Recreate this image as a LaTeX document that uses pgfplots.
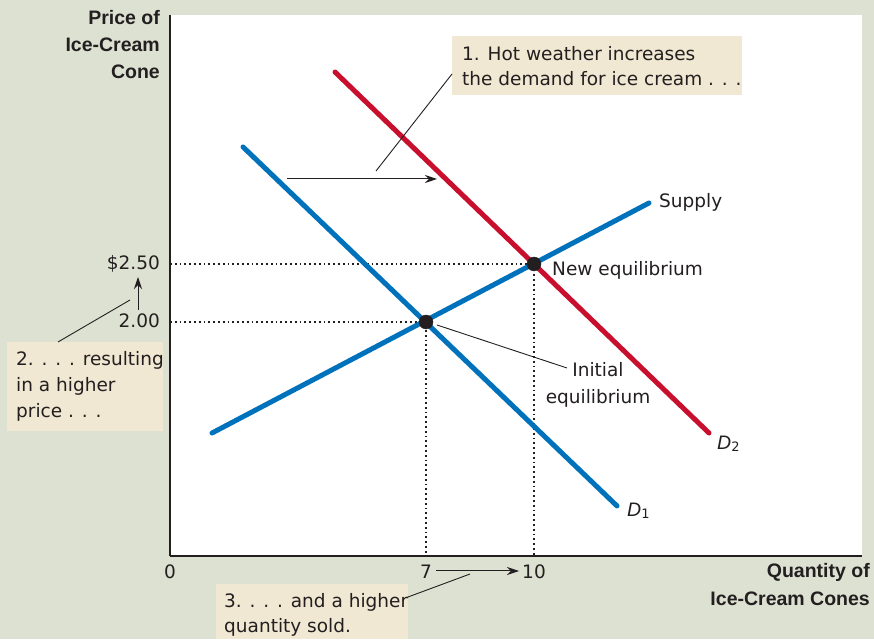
\documentclass[border=0pt]{standalone}
\usepackage{pgfplots}
\pgfplotsset{compat=1.18}
\usetikzlibrary{arrows.meta}
\usepackage{fontspec}
\setmainfont{DejaVu Sans}
\newfontfamily\bfont{Liberation Sans}
\definecolor{bg}{HTML}{DDE1D1}
\definecolor{boxc}{HTML}{F0E8D2}
\definecolor{sblue}{HTML}{0072BC}
\definecolor{dred}{HTML}{C8102E}
\definecolor{ink}{HTML}{231F20}
\newcommand{\lbl}{\fontsize{18.5}{22}\selectfont}
\newcommand{\blbl}{\bfont\bfseries\fontsize{19.5}{22}\selectfont}
\newcommand{\dlbl}[1]{{\bfont\itshape\fontsize{19.5}{22}\selectfont D}\raisebox{-0.35ex}{\fontsize{13}{13}\selectfont #1}}
\begin{document}
\begin{tikzpicture}
\fill[bg] (0,0) rectangle (874pt,639pt);
\useasboundingbox (0,0) rectangle (874pt,639pt);
\begin{axis}[at={(170pt,83pt)}, anchor=south west, scale only axis,
  width=692pt, height=541pt,
  xmin=-0.1111, xmax=19.1111, ymin=-0.0172, ymax=4.6466,
  axis x line=bottom, axis y line=left,
  axis line style={-, draw=ink, line width=1.6pt},
  axis background/.style={fill=white},
  xtick={-0.1111,7,10}, xticklabels={0,7,10},
  ytick={2,2.5}, yticklabels={2.00,\$2.50},
  major tick length=0pt, tick style={draw=none},
  xticklabel style={font=\lbl, text=ink, inner sep=0pt, anchor=base, yshift=-23pt},
  yticklabel style={font=\lbl, text=ink, inner sep=0pt, anchor=base east, xshift=-10pt, yshift=-6pt},
  clip=false]
% dotted guides
\addplot[ink, line width=1.8pt, dash pattern=on 1.8pt off 3pt] coordinates {(-0.1111,2.5) (10,2.5) (10,-0.0172)};
\addplot[ink, line width=1.8pt, dash pattern=on 1.8pt off 3pt] coordinates {(-0.1111,2) (7,2) (7,-0.0172)};
% curves
\addplot[sblue, line width=5pt, line cap=round] coordinates {(1.917,3.509) (12.306,0.414)};
\addplot[dred, line width=5pt, line cap=round] coordinates {(4.472,4.155) (14.861,1.043)};
\addplot[sblue, line width=5pt, line cap=round] coordinates {(1.056,1.043) (13.194,3.026)};
% equilibria
\addplot[only marks, mark=*, mark size=7pt, ink, mark options={fill=ink}] coordinates {(7,2) (10,2.5)};
\end{axis}
\begin{scope}[x=1pt,y=-1pt,yshift=639pt]
% axis titles
\node[anchor=base east, inner sep=0pt, text=ink, font=\blbl] at (160,25) {Price of};
\node[anchor=base east, inner sep=0pt, text=ink, font=\blbl] at (160,52) {Ice-Cream};
\node[anchor=base east, inner sep=0pt, text=ink, font=\blbl] at (160,79) {Cone};
\node[anchor=base east, inner sep=0pt, text=ink, font=\blbl] at (870,578) {Quantity of};
\node[anchor=base east, inner sep=0pt, text=ink, font=\blbl] at (870,605) {Ice-Cream Cones};
% curve labels
\node[anchor=base west, inner sep=0pt, text=ink, font=\lbl] at (659,208) {Supply};
\node[anchor=base west, inner sep=0pt, text=ink, font=\lbl] at (552,276) {New equilibrium};
\node[anchor=base, inner sep=0pt, text=ink, font=\lbl] at (598,377) {Initial};
\node[anchor=base, inner sep=0pt, text=ink, font=\lbl] at (598,404) {equilibrium};
\node[anchor=base west, inner sep=0pt, text=ink] at (717,450) {\dlbl{2}};
\node[anchor=base west, inner sep=0pt, text=ink] at (627,517) {\dlbl{1}};
\draw[ink, line width=0.9pt] (437,325) -- (567,368);
% annotation 1
\fill[boxc] (452,36) rectangle (742,95);
\node[anchor=base west, inner sep=0pt, text=ink, font=\lbl] at (462,61) {1. Hot weather increases};
\node[anchor=base west, inner sep=0pt, text=ink, font=\lbl] at (462,86) {the demand for ice cream . . .};
\draw[ink, line width=0.9pt] (376,171) -- (452,74);
\draw[ink, line width=1pt, -{Stealth[length=12pt,width=8pt]}] (287,179) -- (437,179);
% annotation 2
\fill[boxc] (7,342) rectangle (163,431);
\node[anchor=base west, inner sep=0pt, text=ink, font=\lbl] at (16,366) {2. . . . resulting};
\node[anchor=base west, inner sep=0pt, text=ink, font=\lbl] at (16,392) {in a higher};
\node[anchor=base west, inner sep=0pt, text=ink, font=\lbl] at (16,418) {price . . .};
\draw[ink, line width=0.9pt] (58,342) -- (130,300);
\draw[ink, line width=1pt, -{Stealth[length=12pt,width=8pt]}] (138,310) -- (138,277);
% annotation 3
\fill[boxc] (216,584) rectangle (408,639);
\node[anchor=base west, inner sep=0pt, text=ink, font=\lbl] at (224,607) {3. . . . and a higher};
\node[anchor=base west, inner sep=0pt, text=ink, font=\lbl] at (224,632) {quantity sold.};
\draw[ink, line width=0.9pt] (408,597) -- (470,574);
\draw[ink, line width=1pt, -{Stealth[length=12pt,width=8pt]}] (436,571) -- (519,571);
\end{scope}
\end{tikzpicture}
\end{document}
